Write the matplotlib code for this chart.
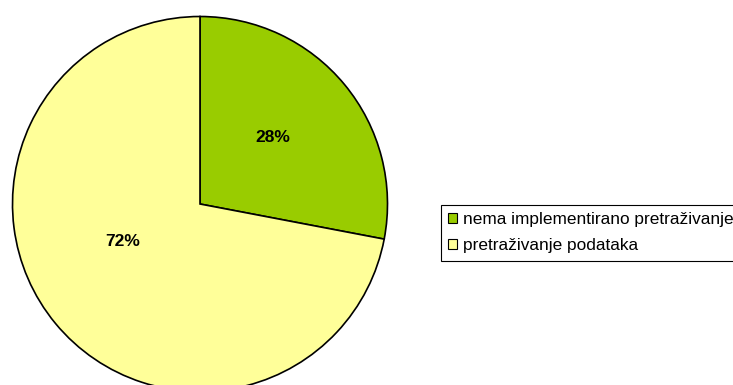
import matplotlib
matplotlib.use("Agg")
from matplotlib import pyplot as plt

plt.rcParams['font.family'] = ['Liberation Sans', 'DejaVu Sans']

labels = ['nema implementirano pretraživanje', 'pretraživanje podataka']
values = [28, 72]
colors = ['#99CC00', '#FFFF99']

W, H = 733, 385
fig = plt.figure(figsize=(W / 100, H / 100), dpi=100)
ax = fig.add_axes([0, 0, 1, 1])

cx, cy, r = 200, H - 204, 187.5
wedges, texts, autotexts = ax.pie(
    values, colors=colors, startangle=90, counterclock=False,
    center=(cx, cy), radius=r, autopct='%d%%', pctdistance=0.53,
    wedgeprops=dict(edgecolor='black', linewidth=1.2),
    textprops=dict(fontsize=12.5, fontweight='bold'))

# pie() resets the limits, so set them in pixels afterwards
ax.set_xlim(0, W)
ax.set_ylim(0, H)
ax.set_aspect('equal')
ax.axis('off')

# label positions inside the slices
autotexts[0].set_position((cx + 73, cy + 67))
autotexts[1].set_position((cx - 77, cy - 37))

handles = [plt.Rectangle((0, 0), 1, 1, facecolor=c, edgecolor='black', linewidth=0.8)
           for c in colors]
leg = fig.legend(handles, labels, loc='upper left',
                 bbox_to_anchor=(441 / W, 1 - 205 / H), borderaxespad=0,
                 fontsize=12.4, frameon=True, fancybox=False, framealpha=1,
                 handlelength=0.5, handleheight=0.5, handletextpad=0.35,
                 labelspacing=0.65, borderpad=0.42)
leg.get_frame().set_edgecolor('black')
leg.get_frame().set_linewidth(0.8)

fig.savefig('out.png', dpi=100)
